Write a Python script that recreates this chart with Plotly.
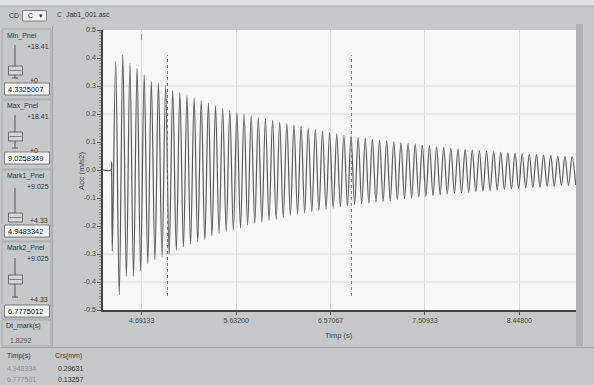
import plotly.graph_objects as go

# ---------------- data ----------------
onset_times = [4.3063, 4.3880, 4.3910, 4.3940, 4.3990]
onset_values = [0.0, 0.0, 0.028, -0.08, -0.29]

peak_times = [4.4324, 4.5034, 4.5743, 4.6453, 4.7162, 4.7872, 4.8581, 4.9291, 5.0000, 5.0710,
              5.1419, 5.2129, 5.2838, 5.3548, 5.4257, 5.4967, 5.5676, 5.6386, 5.7095, 5.7805,
              5.8514, 5.9224, 5.9933, 6.0643, 6.1352, 6.2062, 6.2771, 6.3481, 6.4190, 6.4900,
              6.5609, 6.6319, 6.7028, 6.7738, 6.8447, 6.9157, 6.9866, 7.0576, 7.1285, 7.1995,
              7.2704, 7.3414, 7.4123, 7.4833, 7.5542, 7.6252, 7.6961, 7.7671, 7.8380, 7.9090,
              7.9799, 8.0509, 8.1218, 8.1928, 8.2637, 8.3347, 8.4056, 8.4766, 8.5475, 8.6185,
              8.6894, 8.7604, 8.8313, 8.9023, 8.9732]
peak_values = [0.390, 0.410, 0.381, 0.363, 0.340, 0.316, 0.310, 0.300, 0.284, 0.276,
               0.265, 0.256, 0.248, 0.238, 0.229, 0.221, 0.213, 0.206, 0.200, 0.194,
               0.188, 0.183, 0.177, 0.171, 0.166, 0.161, 0.156, 0.150, 0.145, 0.140,
               0.134, 0.129, 0.125, 0.121, 0.117, 0.113, 0.110, 0.107, 0.104, 0.101,
               0.098, 0.095, 0.093, 0.089, 0.087, 0.083, 0.081, 0.077, 0.075, 0.073,
               0.071, 0.069, 0.067, 0.065, 0.063, 0.061, 0.060, 0.058, 0.056, 0.055,
               0.053, 0.052, 0.050, 0.049, 0.048]
trough_times = [4.4679, 4.5389, 4.6098, 4.6808, 4.7517, 4.8227, 4.8936, 4.9646, 5.0355, 5.1065,
                5.1774, 5.2484, 5.3193, 5.3903, 5.4612, 5.5322, 5.6031, 5.6741, 5.7450, 5.8160,
                5.8869, 5.9579, 6.0288, 6.0998, 6.1707, 6.2417, 6.3126, 6.3836, 6.4545, 6.5255,
                6.5964, 6.6674, 6.7383, 6.8093, 6.8802, 6.9512, 7.0221, 7.0931, 7.1640, 7.2350,
                7.3059, 7.3769, 7.4478, 7.5188, 7.5897, 7.6607, 7.7316, 7.8026, 7.8735, 7.9445,
                8.0154, 8.0864, 8.1573, 8.2283, 8.2992, 8.3702, 8.4411, 8.5121, 8.5830, 8.6540,
                8.7249, 8.7959, 8.8668, 8.9378, 9.0087]
trough_values = [-0.446, -0.380, -0.380, -0.360, -0.335, -0.320, -0.310, -0.300, -0.287, -0.275,
                 -0.265, -0.257, -0.249, -0.235, -0.227, -0.221, -0.215, -0.207, -0.198, -0.191,
                 -0.186, -0.181, -0.176, -0.170, -0.163, -0.158, -0.153, -0.149, -0.144, -0.140,
                 -0.136, -0.131, -0.128, -0.124, -0.121, -0.118, -0.115, -0.112, -0.109, -0.106,
                 -0.103, -0.100, -0.097, -0.094, -0.091, -0.088, -0.085, -0.083, -0.081, -0.079,
                 -0.077, -0.075, -0.073, -0.071, -0.069, -0.067, -0.066, -0.064, -0.062, -0.061,
                 -0.059, -0.058, -0.056, -0.055, -0.054]

x_ticks = [4.69133, 5.632, 6.57067, 7.50933, 8.448]
x_tick_labels = ["4.69133", "5.63200", "6.57067", "7.50933", "8.44800"]
y_ticks = [-0.5, -0.4, -0.3, -0.2, -0.1, 0.0, 0.1, 0.2, 0.3, 0.4, 0.5]
y_tick_labels = ["-0.5", "-0.4", "-0.3", "-0.2", "-0.1", "0.0", "0.1", "0.2", "0.3", "0.4", "0.5"]
y_grid = [0.3, 0.2, -0.3, -0.4]

x_range = [4.3063, 9.0121]
min_pnel = "4.3325007"
max_pnel = "9.0258349"
mark1 = 4.9483342
mark2 = 6.7775012
mark_top, mark_bottom = 0.41, -0.45
dt_mark = "1.8292"
table_head = ["Timp(s)", "Crs(mm)"]
table_rows = [["4.948334", "0.29631"], ["6.777501", "0.13257"]]

# ---------------- build ----------------
times = list(onset_times)
values = list(onset_values)
for tp, vp, tt, vt in zip(peak_times, peak_values, trough_times, trough_values):
    times += [tp, tt]
    values += [vp, vt]

W, H = 594, 385
L, R, T, B = 103, 18, 30, 75
PW, PH = W - L - R, H - T - B
FONT = "Liberation Sans, Arial, sans-serif"


def X(px):
    return (px - L) / PW


def Y(py):
    return 1 - (py - T) / PH


shapes = []
annotations = []


def text(px, py, s, size=7, color="#333333", anchor="left"):
    annotations.append(dict(x=X(px), y=Y(py), xref="paper", yref="paper", text=s,
                            showarrow=False, xanchor=anchor, yanchor="middle",
                            font=dict(size=size, color=color, family=FONT)))


def rect(x0, y0, x1, y1, fill="rgba(0,0,0,0)", line=None, lw=0.8):
    shapes.append(dict(type="rect", xref="paper", yref="paper", x0=X(x0), x1=X(x1),
                       y0=Y(y1), y1=Y(y0), fillcolor=fill,
                       line=dict(color=line if line else "rgba(0,0,0,0)", width=lw if line else 0)))


def pline(x0, y0, x1, y1, color="#555555", width=1):
    shapes.append(dict(type="line", xref="paper", yref="paper", x0=X(x0), x1=X(x1),
                       y0=Y(y0), y1=Y(y1), line=dict(color=color, width=width)))


# top light strip and header
rect(0, 0, 594, 6, fill="#dfe0e1")
pline(0, 6, 594, 6, color="#aaaaaa", width=1)
text(7, 16, "CD", size=7)
rect(22.5, 10.5, 46.5, 21, fill="#f4f4f4", line="#6a6a6a", lw=0.8)
text(26, 16, "C", size=7, color="#222222")
text(41, 16, "▾", size=7, color="#333333", anchor="center")
text(55, 15, "C  Jab1_001.asc", size=7, color="#333333")

# panel separators
pline(52.5, 26, 52.5, 346, color="#a5a7a9", width=1)
pline(0, 347.5, 594, 347.5, color="#9d9fa1", width=1.2)
rect(576, 24, 583, 346, fill="#b0b2b4")

# left slider groups
groups = [
    dict(top=29, bot=99, label="Min_Pnel", hi="+18.41", lo="+0", val=min_pnel,
         ly=36, s0=45, s1=78, th=66, box=83),
    dict(top=100, bot=169, label="Max_Pnel", hi="+18.41", lo="+0", val=max_pnel,
         ly=106, s0=115, s1=148, th=132, box=152),
    dict(top=170, bot=241, label="Mark1_Pnel", hi="+9.025", lo="+4.33", val="4.9483342",
         ly=176, s0=188, s1=218, th=213, box=225),
    dict(top=242, bot=319, label="Mark2_Pnel", hi="+9.025", lo="+4.33", val="6.7775012",
         ly=248, s0=258, s1=297, th=275, box=305),
]
for g in groups:
    rect(2, g["top"], 51, g["bot"], line="#a2a4a6", lw=0.8)
    text(5, g["ly"], g["label"], size=7, color="#333333")
    text(51, g["ly"] + 10, g["hi"], size=7, color="#333333", anchor="right")
    pline(15, g["s0"], 15, g["s1"], color="#555555", width=1)
    pline(12, g["s1"], 18, g["s1"], color="#555555", width=1)
    rect(8.5, g["th"], 22.5, g["th"] + 9, fill="#d4d5d6", line="#505050", lw=0.8)
    pline(9.5, g["th"] + 4.5, 21.5, g["th"] + 4.5, color="#666666", width=0.8)
    text(28, g["s1"] + 2.5, g["lo"], size=7, color="#333333")
    rect(4.5, g["box"], 49.5, g["box"] + 12, fill="#f6f6f6", line="#606060", lw=0.8)
    text(6, g["box"] + 6, g["val"], size=7.5, color="#222222")

rect(2, 320, 51, 346, line="#a2a4a6", lw=0.8)
text(4, 326, "Dt_mark(s)", size=7, color="#333333")
text(8, 340, dt_mark, size=7, color="#555555")

# bottom table
text(5, 356, table_head[0], size=7, color="#333333")
text(53, 356, table_head[1], size=7, color="#333333")
for i, row in enumerate(table_rows):
    yy = 368 + i * 11
    text(5, yy, row[0], size=7, color="#8e8e8e")
    text(56, yy, row[1], size=7, color="#333333")

# axis titles
text(339, 335, "Timp (s)", size=7.5, color="#444444", anchor="center")
annotations.append(dict(x=X(81), y=Y(171), xref="paper", yref="paper", text="Acc (m/s2)",
                        showarrow=False, textangle=-90, xanchor="center", yanchor="middle",
                        font=dict(size=8, color="#444444", family=FONT)))

# horizontal grid lines
for gy in y_grid:
    shapes.append(dict(type="line", xref="paper", yref="y", x0=0, x1=1, y0=gy, y1=gy,
                       line=dict(color="#d6d6d6", width=1), layer="below"))

# small mark at top
shapes.append(dict(type="line", xref="x", yref="y", x0=x_ticks[0], x1=x_ticks[0],
                   y0=0.465, y1=0.485, line=dict(color="#888888", width=1)))

# marker lines
for m in [mark1, mark2]:
    shapes.append(dict(type="line", xref="x", yref="y", x0=m, x1=m, y0=mark_bottom, y1=mark_top,
                       line=dict(color="#7a7a7a", width=1, dash="dot")))

fig = go.Figure()
fig.add_trace(go.Scatter(x=times, y=values, mode="lines",
                         line=dict(color="#5a5a5a", width=1.2, shape="spline", smoothing=1.0),
                         hoverinfo="skip"))

fig.update_layout(
    width=W, height=H,
    margin=dict(l=L, r=R, t=T, b=B, pad=0),
    paper_bgcolor="#c6c8ca",
    plot_bgcolor="#f8f8f8",
    showlegend=False,
    shapes=shapes,
    annotations=annotations,
    font=dict(family=FONT, size=7, color="#444444"),
    xaxis=dict(range=x_range, tickmode="array", tickvals=x_ticks, ticktext=x_tick_labels,
               ticks="outside", ticklen=3, tickcolor="#555555", showline=True,
               linecolor="#444444", linewidth=1.5, showgrid=True, gridcolor="#d8d8d8",
               gridwidth=1, zeroline=False, tickfont=dict(size=7, color="#444444"),
               fixedrange=True),
    yaxis=dict(range=[-0.5, 0.5], tickmode="array", tickvals=y_ticks, ticktext=y_tick_labels,
               ticks="outside", ticklen=4, tickcolor="#555555", showline=True,
               linecolor="#444444", linewidth=1.5, showgrid=False, zeroline=False,
               tickfont=dict(size=7, color="#444444"), fixedrange=True,
               minor=dict(tickmode="linear", tick0=-0.5, dtick=0.01, ticks="outside",
                          ticklen=2, tickcolor="#8a8a8a", showgrid=False)),
)

fig.write_html("out.html", config={"displayModeBar": False},
               post_script="document.body.style.margin='0';document.body.style.overflow='hidden';")
